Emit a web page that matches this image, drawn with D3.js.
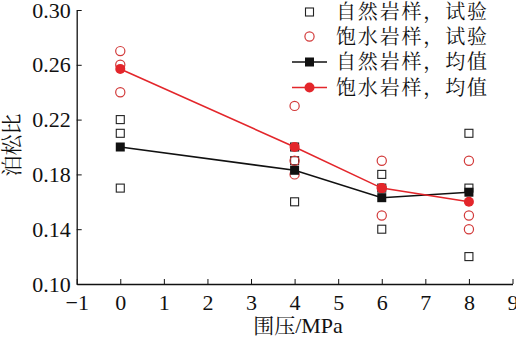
<!DOCTYPE html>
<html><head><meta charset="utf-8">
<script src="https://cdn.jsdelivr.net/npm/d3@7"></script>
<style>body{margin:0;background:#fff}svg{display:block}</style>
</head><body>
<svg id="c" width="516" height="340"></svg>
<script>
const pressures = [0, 4, 6, 8];
const naturalTests = [[0.22, 0.21, 0.17], [0.20, 0.19, 0.16], [0.18, 0.17, 0.14], [0.21, 0.17, 0.12]];
const saturatedTests = [[0.27, 0.26, 0.24], [0.23, 0.19, 0.18], [0.19, 0.17, 0.15], [0.19, 0.15, 0.14]];
const naturalMean = [0.200, 0.183, 0.163, 0.167];
const saturatedMean = [0.257, 0.200, 0.170, 0.160];
const xTicks = [-1, 0, 1, 2, 3, 4, 5, 6, 7, 8, 9];
const yTicks = [0.10, 0.14, 0.18, 0.22, 0.26, 0.30];
const legendLabels = ["自然岩样，试验", "饱水岩样，试验", "自然岩样，均值", "饱水岩样，均值"];
const xTitle = ["围压", "/MPa"];
const yTitle = "泊松比";

const SERIF = '"Liberation Serif"';
const CJK = '"Noto Serif CJK SC"';
const svg = d3.select("#c");
const x = d3.scaleLinear().domain([-1, 9]).range([76.7, 512.5]);
const y = d3.scaleLinear().domain([0.10, 0.30]).range([284, 10]);
const RED = "#e3262b", RED_O = "#d23a3a";

// axes
const gx = svg.append("g").attr("transform", `translate(0,${y(0.10)})`)
  .call(d3.axisBottom(x).tickValues(xTicks).tickFormat(d => d < 0 ? "\u2212" + Math.abs(d) : d).tickSizeInner(-5).tickSizeOuter(0).tickPadding(10));
const gy = svg.append("g").attr("transform", `translate(${x(-1)},0)`)
  .call(d3.axisLeft(y).tickValues(yTicks).tickFormat(d3.format(".2f")).tickSizeInner(-5).tickSizeOuter(0).tickPadding(7));
[gx, gy].forEach(g => {
  g.attr("font-family", null).attr("font-size", null);
  g.select(".domain").attr("stroke", "#111").attr("stroke-width", 1.3);
  g.selectAll(".tick line").attr("stroke", "#111").attr("stroke-width", 1);
  g.selectAll("text").style("font-family", SERIF).style("font-size", "22px").attr("fill", "#111");
});
gy.selectAll(".tick text").attr("x", -6);
gx.selectAll(".tick text").attr("dy", "0.71em");

// open test markers
const flatN = [], flatS = [];
pressures.forEach((p, i) => {
  naturalTests[i].forEach(v => flatN.push([p, v]));
  saturatedTests[i].forEach(v => flatS.push([p, v]));
});
svg.append("g").selectAll("rect").data(flatN).join("rect")
  .attr("x", d => x(d[0]) - 4).attr("y", d => y(d[1]) - 4)
  .attr("width", 8).attr("height", 8)
  .attr("fill", "none").attr("stroke", "#222").attr("stroke-width", 1.1);
svg.append("g").selectAll("circle").data(flatS).join("circle")
  .attr("cx", d => x(d[0])).attr("cy", d => y(d[1])).attr("r", 4.6)
  .attr("fill", "none").attr("stroke", RED_O).attr("stroke-width", 1.2);

// mean lines
const line = d3.line().x(d => x(d[0])).y(d => y(d[1]));
const nm = pressures.map((p, i) => [p, naturalMean[i]]);
const sm = pressures.map((p, i) => [p, saturatedMean[i]]);
svg.append("path").datum(nm).attr("d", line).attr("fill", "none").attr("stroke", "#111").attr("stroke-width", 1.6);
svg.append("path").datum(sm).attr("d", line).attr("fill", "none").attr("stroke", RED).attr("stroke-width", 1.6);
svg.append("g").selectAll("rect").data(nm).join("rect")
  .attr("x", d => x(d[0]) - 4.5).attr("y", d => y(d[1]) - 4.5)
  .attr("width", 9).attr("height", 9).attr("fill", "#111");
svg.append("g").selectAll("circle").data(sm).join("circle")
  .attr("cx", d => x(d[0])).attr("cy", d => y(d[1])).attr("r", 5).attr("fill", RED);

// legend
const legY = [12, 36.5, 62, 87.5];
const lx = 309.5;
const lg = svg.append("g");
lg.append("rect").attr("x", lx - 4).attr("y", legY[0] - 4).attr("width", 8).attr("height", 8)
  .attr("fill", "none").attr("stroke", "#222").attr("stroke-width", 1.1);
lg.append("circle").attr("cx", lx).attr("cy", legY[1]).attr("r", 4.6)
  .attr("fill", "none").attr("stroke", RED_O).attr("stroke-width", 1.2);
lg.append("line").attr("x1", 292).attr("x2", 327).attr("y1", legY[2]).attr("y2", legY[2]).attr("stroke", "#111").attr("stroke-width", 1.6);
lg.append("rect").attr("x", lx - 4.5).attr("y", legY[2] - 4.5).attr("width", 9).attr("height", 9).attr("fill", "#111");
lg.append("line").attr("x1", 292).attr("x2", 327).attr("y1", legY[3]).attr("y2", legY[3]).attr("stroke", RED).attr("stroke-width", 1.6);
lg.append("circle").attr("cx", lx).attr("cy", legY[3]).attr("r", 5).attr("fill", RED);
lg.selectAll("text").data(legendLabels).join("text")
  .attr("x", 336).attr("y", (d, i) => legY[i]).attr("dy", "0.36em")
  .style("font-family", CJK).style("font-size", "20px").attr("fill", "#111")
  .attr("textLength", 151).attr("lengthAdjust", "spacing")
  .text(d => d);

// axis titles
const xt = svg.append("text").attr("x", 298).attr("y", 327).attr("dy", "0.36em")
  .attr("text-anchor", "middle").attr("fill", "#111");
xt.append("tspan").style("font-family", CJK).style("font-size", "21px").text(xTitle[0]);
xt.append("tspan").style("font-family", SERIF).style("font-size", "22px").text(xTitle[1]);
svg.append("text").attr("transform", "translate(11,145) rotate(-90)")
  .attr("text-anchor", "middle").attr("dy", "0.36em")
  .style("font-family", CJK).style("font-size", "21px").attr("fill", "#111").text(yTitle);
</script>
</body></html>
